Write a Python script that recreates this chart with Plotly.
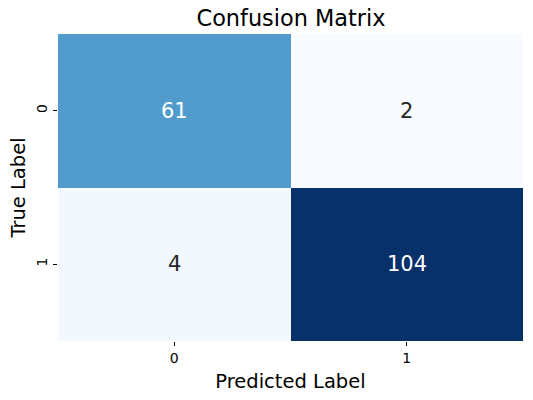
import plotly.graph_objects as go

# confusion matrix counts (rows = true, cols = predicted)
labels = ["0", "1"]
counts = [[61, 2],
          [4, 104]]

zmin = min(min(r) for r in counts)
zmax = max(max(r) for r in counts)

fig = go.Figure(go.Heatmap(
    z=counts, x=labels, y=labels,
    colorscale="Blues", zmin=zmin, zmax=zmax,
    showscale=False, hoverinfo="skip", xgap=0, ygap=0,
))

# annotate cells, white text on dark cells like seaborn
for i, row in enumerate(counts):
    for j, v in enumerate(row):
        frac = (v - zmin) / (zmax - zmin)
        fig.add_annotation(
            x=labels[j], y=labels[i], text=str(v), showarrow=False,
            font=dict(size=21, color="white" if frac > 0.45 else "#262626"),
        )

fig.update_layout(
    width=533, height=400,
    margin=dict(l=58, r=10, t=34, b=59),
    paper_bgcolor="white", plot_bgcolor="white",
    font=dict(family="DejaVu Sans", color="black"),
    title=dict(text="Confusion Matrix", x=0.546, xanchor="center",
               y=0.955, yanchor="middle", font=dict(size=22.4, color="black"),
               automargin=False),
)
fig.update_xaxes(
    title=dict(text="Predicted Label", font=dict(size=19.5), standoff=9),
    ticks="outside", ticklen=4, tickcolor="black", tickfont=dict(size=14),
    showgrid=False, zeroline=False, showline=False, automargin=False,
)
fig.update_yaxes(
    title=dict(text="True Label", font=dict(size=19.5), standoff=3),
    autorange="reversed", tickangle=-90,
    ticks="outside", ticklen=4, tickcolor="black", tickfont=dict(size=14),
    showgrid=False, zeroline=False, showline=False, automargin=False,
)

# drop the default 8px body margin so the figure fills the window
fig.write_html("out.html", config={"displayModeBar": False},
               post_script="document.body.style.margin='0';")
